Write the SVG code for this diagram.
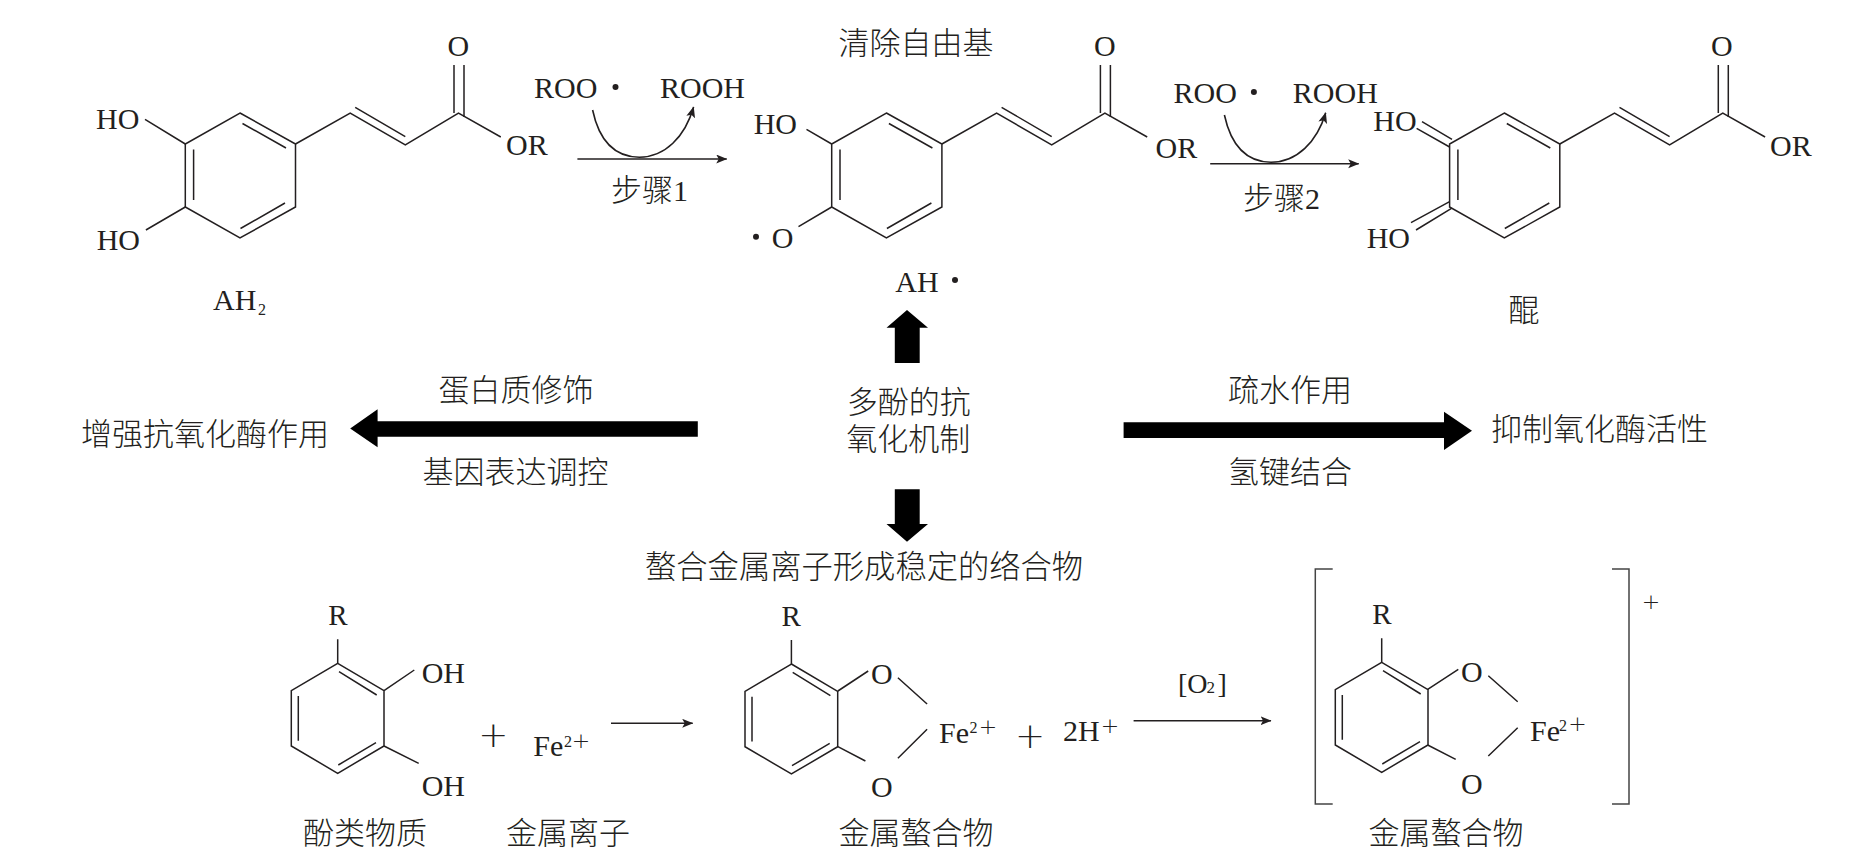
<svg xmlns="http://www.w3.org/2000/svg" width="1875" height="856" viewBox="0 0 1875 856">
<style>
text{font-family:"Liberation Serif","Noto Sans CJK SC",serif;font-size:30px;fill:#231f20}
.cn{font-family:"Noto Sans CJK SC",sans-serif;font-size:31px;font-weight:300}
.dg{font-family:"Liberation Serif",serif;font-size:30px;font-weight:400}
.sm{font-size:16px}
.pl{font-family:"DejaVu Sans",sans-serif;font-weight:200;font-size:22px;text-anchor:middle}
.big{font-size:36px}
.b{fill:none;stroke:#231f20;stroke-width:1.5}
.fa{fill:#000;stroke:none}
.dot{fill:#231f20;stroke:none}
.ar{fill:none;stroke:#231f20;stroke-width:1.6;marker-end:url(#ah)}
</style>
<defs>
<marker id="ah" markerUnits="userSpaceOnUse" markerWidth="12" markerHeight="10" refX="10.5" refY="4.5" orient="auto"><path d="M11 4.5L0 0L2.5 4.5L0 9z" fill="#231f20"/></marker>
<g id="caffeoyl" class="b">
<path class="b" d="M240 113L295.5 144V207L240 238L185.3 207V144z"/>
<path class="b" d="M193.6 149.5V200M242.5 123.5L286 148M240.5 228.5L285 203"/>
<path class="b" d="M295.5 144L350.2 113L405.3 145L458.5 113L500.8 137"/>
<path class="b" d="M355.2 107.3L405.3 136.7M454 65V113M464 65V117"/>
</g>
<g id="catechol">
<path class="b" d="M337.7 663.3L384 690.7V746L337.7 773.3L291.3 746V690.7z"/>
<path class="b" d="M339 671.7L376.7 695M298.3 696V740.7M338.3 765L376 742.7M337.7 639.3V663.3"/>
</g>
</defs>
<rect width="1875" height="856" fill="#fff"/>

<g id="connectors">
<path class="ar" d="M577.4 159H726.7"/>
<path class="ar" d="M592.6 110C600 145 618 157 639.4 157.3C665 157 685 137 693.6 107"/>
<path class="ar" d="M1210.2 163.7H1358.7"/>
<path class="ar" d="M1224.4 115C1232 150 1250 162 1271 162.3C1297 162 1317 142 1325.7 112.7"/>
<path class="ar" d="M611 723.3H692.7"/>
<path class="ar" d="M1133.6 720.7H1271"/>
<path class="fa" d="M907 310L928 327.7H919.7V363H894.8V327.7H886.5z"/>
<path class="fa" d="M907 541.7L928 524H919.7V489.3H894.8V524H886.5z"/>
<path class="fa" d="M350.2 428.5L377.6 409.3V421.3H697.8V436.7H377.6V447.3z"/>
<path class="fa" d="M1472 430.7L1444 411.7V422.3H1123.6V438H1444V450z"/>
</g>

<g id="mol-ah2">
<use href="#caffeoyl"/>
<path class="b" d="M145 119.3L185.3 144M145.9 230L185.3 207"/>
<text x="96" y="129">HO</text><text x="96.7" y="250">HO</text>
<text x="447.5" y="56">O</text><text x="506" y="155">OR</text>
<text x="213" y="310">AH<tspan class="sm" x="258" y="314.5">2</tspan></text>
</g>

<g id="step1">
<text x="534" y="98">ROO</text><circle class="dot" cx="615.5" cy="87" r="3"/>
<text x="660" y="98">ROOH</text>
<text class="cn" x="611" y="201">步骤<tspan class="dg">1</tspan></text>
</g>

<g id="title"><text class="cn" x="838.5" y="54">清除自由基</text></g>

<g id="mol-ah-radical">
<use href="#caffeoyl" transform="translate(646.4 0)"/>
<path class="b" d="M806.5 129.3L831.7 144M798.5 226.7L831.7 207"/>
<text x="753.7" y="134">HO</text>
<circle class="dot" cx="756" cy="236.7" r="3"/><text x="771.7" y="247.7">O</text>
<text x="1094" y="56">O</text><text x="1155.5" y="158">OR</text>
<text x="895.3" y="291.7">AH</text><circle class="dot" cx="955" cy="280" r="3"/>
</g>

<g id="step2">
<text x="1173.5" y="102.7">ROO</text><circle class="dot" cx="1253.9" cy="92" r="3"/>
<text x="1292.8" y="102.7">ROOH</text>
<text class="cn" x="1243" y="209">步骤<tspan class="dg">2</tspan></text>
</g>

<g id="mol-quinone">
<use href="#caffeoyl" transform="translate(1264.3 0)"/>
<path class="b" d="M1422 121.7L1452 139.3M1416.6 128.3L1449.6 147M1411 222.7L1449.6 201.7M1416 230L1451.5 208.3"/>
<text x="1373.3" y="130.7">HO</text><text x="1366.7" y="248">HO</text>
<text x="1711" y="56">O</text><text x="1770" y="156">OR</text>
<text class="cn" x="1508.5" y="321">醌</text>
</g>

<g id="center"><text class="cn" x="846.8" y="413">多酚的抗<tspan x="846.2" y="450">氧化机制</tspan></text></g>
<g id="enhance"><text class="cn" x="81" y="445">增强抗氧化酶作用</text></g>
<g id="left-labels"><text class="cn" x="438.5" y="401">蛋白质修饰</text><text class="cn" x="422.5" y="483">基因表达调控</text></g>
<g id="right-labels"><text class="cn" x="1228" y="401">疏水作用</text><text class="cn" x="1228" y="483">氢键结合</text></g>
<g id="inhibit"><text class="cn" x="1491" y="440">抑制氧化酶活性</text></g>
<g id="chelate"><text class="cn" x="645" y="578" style="font-size:31.3px">螯合金属离子形成稳定的络合物</text></g>

<g id="mol-phenol">
<use href="#catechol"/>
<path class="b" d="M384 690.7L414.3 670M384 746L418.7 763.3"/>
<text x="328.3" y="625" style="font-size:29px">R</text>
<text x="421.7" y="682.7">OH</text><text x="421.7" y="796">OH</text>
<text class="cn" x="303" y="844">酚类物质</text>
</g>
<g id="plus-1"><text class="pl big" x="493.3" y="746.6">+</text></g>
<g id="fe-ion">
<text x="533.3" y="755.7">Fe<tspan class="sm" x="564" y="746.7">2</tspan></text><text class="pl" x="581" y="748">+</text>
<text class="cn" x="506" y="844">金属离子</text>
</g>

<g id="mol-chelate">
<use href="#catechol" transform="translate(453.7 .7)"/>
<path class="b" d="M837.9 691L868.2 671M837.9 746.7L865.4 761M897.9 677.7L927.1 704M927.1 729.3L897.9 758.3"/>
<text x="781.4" y="626" style="font-size:29px">R</text>
<text x="871" y="684">O</text><text x="871" y="796.7">O</text>
<text x="939" y="743.3">Fe<tspan class="sm" x="969.5" y="732.7">2</tspan></text><text class="pl" x="988" y="733.6">+</text>
<text class="cn" x="838.5" y="844">金属螯合物</text>
</g>
<g id="plus-2"><text class="pl big" x="1030" y="748">+</text></g>
<g id="proton"><text x="1062.9" y="741">2H</text><text class="pl" x="1110" y="733">+</text></g>
<g id="oxygen"><text x="1178" y="693.3" style="font-size:28px">[O<tspan x="1206.5" y="693.3" style="font-size:17px">2</tspan><tspan x="1217.5" y="693.3">]</tspan></text></g>

<g id="mol-oxidized">
<use href="#catechol" transform="translate(1044 -1)"/>
<path class="b" d="M1427.7 689.3L1458.3 669.3M1427.7 745L1455.7 759.3M1488.3 675.7L1517.7 701.7M1517.7 727.7L1488.3 756"/>
<path class="b" style="stroke:#444" d="M1332.7 569H1315.3V804H1332.7M1612 569H1629V804H1612"/>
<text x="1372.3" y="624" style="font-size:29px">R</text>
<text x="1461" y="682.3">O</text><text x="1461" y="794.3">O</text>
<text x="1530" y="741">Fe<tspan class="sm" x="1559" y="731">2</tspan></text><text class="pl" x="1577.5" y="731">+</text>
<text class="pl" x="1651" y="608.6">+</text>
<text class="cn" x="1368.5" y="844">金属螯合物</text>
</g>
</svg>
